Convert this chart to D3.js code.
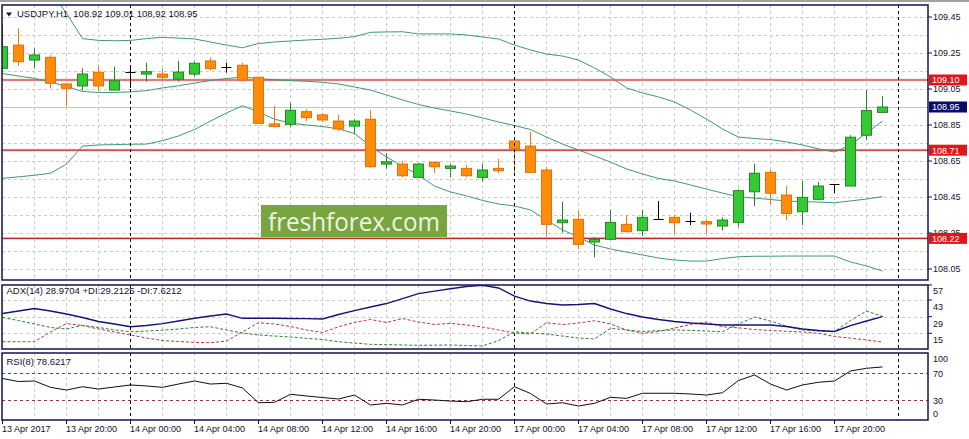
<!DOCTYPE html>
<html><head><meta charset="utf-8">
<script src="https://cdn.jsdelivr.net/npm/d3@7"></script>
<style>
body{margin:0;background:#fff;}
svg{display:block;}
text{font-family:"Liberation Sans",Arial,sans-serif;}
</style>
</head><body><svg id="c" width="969" height="439"></svg>
<script>
// ---------- DATA ----------
const barTimes = [
"13 Apr 16:00","13 Apr 17:00","13 Apr 18:00","13 Apr 19:00","13 Apr 20:00","13 Apr 21:00","13 Apr 22:00","13 Apr 23:00",
"14 Apr 00:00","14 Apr 01:00","14 Apr 02:00","14 Apr 03:00","14 Apr 04:00","14 Apr 05:00","14 Apr 06:00","14 Apr 07:00",
"14 Apr 08:00","14 Apr 09:00","14 Apr 10:00","14 Apr 11:00","14 Apr 12:00","14 Apr 13:00","14 Apr 14:00","14 Apr 15:00",
"14 Apr 16:00","14 Apr 17:00","14 Apr 18:00","14 Apr 19:00","14 Apr 20:00","14 Apr 21:00","14 Apr 22:00","14 Apr 23:00",
"17 Apr 00:00","17 Apr 01:00","17 Apr 02:00","17 Apr 03:00","17 Apr 04:00","17 Apr 05:00","17 Apr 06:00","17 Apr 07:00",
"17 Apr 08:00","17 Apr 09:00","17 Apr 10:00","17 Apr 11:00","17 Apr 12:00","17 Apr 13:00","17 Apr 14:00","17 Apr 15:00",
"17 Apr 16:00","17 Apr 17:00","17 Apr 18:00","17 Apr 19:00","17 Apr 20:00","17 Apr 21:00","17 Apr 22:00","17 Apr 23:00"];

const open  = [109.165,109.294,109.211,109.226,109.078,109.067,109.143,109.044,109.144,109.133,109.133,109.104,109.133,109.206,109.170,109.182,
109.115,108.856,108.854,108.924,108.906,108.872,108.844,108.882,108.633,108.633,108.559,108.643,108.609,108.609,108.559,108.609,
108.761,108.733,108.600,108.307,108.326,108.200,108.215,108.298,108.263,108.326,108.337,108.318,108.313,108.289,108.309,108.479,
108.587,108.461,108.368,108.437,108.521,108.511,108.793,108.920];
const high  = [109.406,109.387,109.276,109.239,109.085,109.165,109.178,109.174,109.167,109.196,109.165,109.206,109.202,109.226,109.196,109.196,
109.118,108.956,108.974,108.937,108.917,108.906,108.882,108.933,108.693,108.650,108.637,108.646,108.633,108.628,108.633,108.661,
108.765,108.813,108.618,108.424,108.372,108.226,108.378,108.350,108.378,108.428,108.350,108.363,108.326,108.337,108.493,108.633,
108.600,108.511,108.539,108.533,108.521,108.793,109.044,109.010];
const low   = [109.156,109.178,109.165,109.054,108.952,109.041,109.041,109.044,109.056,109.091,109.091,109.091,109.118,109.152,109.141,109.091,
108.856,108.837,108.841,108.872,108.867,108.818,108.798,108.613,108.609,108.559,108.556,108.585,108.559,108.559,108.535,108.582,
108.572,108.585,108.229,108.252,108.159,108.115,108.213,108.255,108.233,108.326,108.248,108.294,108.248,108.263,108.285,108.400,
108.409,108.322,108.294,108.437,108.471,108.511,108.767,108.920];
const close = [109.285,109.202,109.239,109.082,109.054,109.133,109.067,109.096,109.144,109.146,109.115,109.144,109.193,109.163,109.170,109.100,
108.859,108.841,108.932,108.891,108.878,108.828,108.872,108.618,108.646,108.568,108.633,108.618,108.622,108.568,108.600,108.596,
108.717,108.587,108.298,108.322,108.187,108.215,108.309,108.257,108.337,108.326,108.307,108.318,108.300,108.322,108.485,108.582,
108.471,108.359,108.448,108.511,108.521,108.782,108.930,108.950];

const bbUpper  = [109.720,109.680,109.647,109.596,109.470,109.330,109.320,109.318,109.320,109.330,109.337,109.333,109.328,109.311,109.294,109.279,
109.303,109.311,109.317,109.322,109.326,109.332,109.341,109.365,109.367,109.368,109.356,109.356,109.356,109.350,109.339,109.328,
109.294,109.267,109.244,109.233,109.211,109.167,109.117,109.056,109.028,109.006,108.978,108.933,108.883,108.828,108.783,108.775,
108.769,108.756,108.739,108.717,108.700,108.739,108.806,108.872];
const bbMiddle = [109.136,109.122,109.109,109.089,109.064,109.036,109.031,109.031,109.034,109.041,109.056,109.068,109.083,109.097,109.108,109.117,
109.108,109.101,109.097,109.093,109.087,109.078,109.061,109.044,109.017,108.989,108.964,108.944,108.928,108.911,108.889,108.867,
108.847,108.825,108.783,108.744,108.711,108.678,108.644,108.606,108.578,108.553,108.539,108.517,108.494,108.472,108.451,108.444,
108.436,108.428,108.424,108.422,108.418,108.428,108.439,108.452];
const bbLower  = [108.554,108.562,108.571,108.582,108.633,108.733,108.739,108.741,108.743,108.744,108.763,108.789,108.825,108.872,108.917,108.957,
108.922,108.882,108.861,108.850,108.842,108.828,108.803,108.733,108.672,108.622,108.572,108.511,108.478,108.456,108.431,108.411,
108.400,108.378,108.322,108.267,108.228,108.183,108.161,108.144,108.128,108.111,108.100,108.094,108.094,108.108,108.118,108.121,
108.121,108.122,108.122,108.122,108.122,108.089,108.067,108.039];

const adx     = [31.6,33.7,35.8,33.7,31.2,28.3,24.9,22.8,20.5,21.5,23.1,25.3,27.6,29.5,31.2,27.6,
27.6,27.6,27.4,27.3,27.0,30.8,34.1,37.1,40.0,44.2,48.4,50.5,52.5,54.3,55.4,53.1,
46.3,42.1,40.0,38.8,39.2,40.0,35.4,31.6,28.7,26.6,24.9,23.6,22.8,22.0,22.0,22.0,
22.0,20.7,18.6,17.3,16.5,21.5,25.3,28.9704];
const plusDI  = [28.3,25.7,22.8,19.9,18.6,21.7,19.9,17.8,16.3,16.9,17.6,18.6,19.9,20.5,17.8,15.2,
13.6,12.7,11.9,10.8,9.8,7.9,6.8,5.7,5.5,5.2,4.9,5.0,5.2,4.7,4.3,8.9,
16.3,15.2,14.4,12.7,11.0,10.2,19.2,17.8,16.5,17.3,17.8,17.5,16.9,16.3,22.8,28.7,
25.3,21.1,17.8,16.9,16.5,25.7,33.7,29.2125];
const minusDI = [7.9,7.9,7.9,16.1,23.2,21.5,18.6,16.1,13.6,11.0,8.9,8.1,7.4,7.1,8.5,16.1,
23.9,22.8,20.7,17.8,15.7,20.5,24.1,26.6,24.1,27.4,24.5,22.4,23.4,22.0,20.3,17.8,
15.2,14.4,23.9,22.4,23.6,25.6,22.8,17.8,15.0,16.5,19.4,22.4,24.5,20.5,19.6,18.2,
17.3,16.7,16.1,15.0,12.3,11.0,9.4,7.6212];
const rsi     = [61.5,57.0,57.8,48.4,44.4,49.3,45.9,48.9,51.9,50.4,48.4,53.3,57.8,53.3,54.4,47.4,
25.6,26.2,38.1,35.6,33.3,31.1,37.0,22.2,24.7,22.2,30.7,29.6,28.1,27.1,30.7,30.7,
49.3,39.3,23.7,25.6,20.7,24.7,33.6,32.1,39.6,39.6,39.6,38.5,37.0,40.4,58.5,66.7,
53.3,44.4,51.9,55.9,57.8,72.6,76.6,78.6217];

const levelLines   = [109.10, 108.71, 108.22];
const currentPrice = 108.95;
const priceTicks   = [109.45,109.25,109.05,108.85,108.65,108.45,108.25,108.05];
const priceGrid    = [109.45,109.35,109.25,109.15,109.05,108.95,108.85,108.75,108.65,108.55,108.45,108.35,108.25,108.15,108.05];
const adxTicks     = [57,43,29,15];
const rsiTicks     = [100,70,30,0];
const rsiLevels    = [70,30];
const timeTickIdx    = [0,4,8,12,16,20,24,28,32,36,40,44,48,52];
const timeTickLabels = ["13 Apr 2017","13 Apr 20:00","14 Apr 00:00","14 Apr 04:00","14 Apr 08:00","14 Apr 12:00","14 Apr 16:00",
"14 Apr 20:00","17 Apr 00:00","17 Apr 04:00","17 Apr 08:00","17 Apr 12:00","17 Apr 16:00","17 Apr 20:00"];
const daySeparatorIdx = [8,32,56];
const titleMain = "USDJPY,H1  108.92 109.01 108.92 108.95";
const titleAdx  = "ADX(14) 28.9704 +DI:29.2125 -DI:7.6212";
const titleRsi  = "RSI(8) 78.6217";
const watermark = "freshforex.com";

// ---------- LAYOUT ----------
const svg = d3.select('#c');
const L = 2, R = 928;
const P = {
  main:{top:5,bottom:280},
  adx:{top:285,bottom:349},
  rsi:{top:353,bottom:420}
};
const x  = d3.scaleLinear().domain([0,56]).range([2.5,898.5]);
const y  = d3.scaleLinear().domain([108.05,109.45]).range([269,17]);
const ya = d3.scaleLinear().domain([1.8,55.6]).range([349,285]);
const yr = d3.scaleLinear().domain([0,100]).range([420,352.5]);

svg.append('rect').attr('x',0).attr('y',0).attr('width',969).attr('height',439).attr('fill','#fff');
svg.append('line').attr('x1',0).attr('x2',969).attr('y1',1).attr('y2',1).attr('stroke','#a0a0a0').attr('stroke-width',2);

const defs = svg.append('defs');
Object.entries(P).forEach(([k,p])=>{
  defs.append('clipPath').attr('id','clip-'+k).append('rect')
    .attr('x',L).attr('y',p.top).attr('width',R-L).attr('height',p.bottom-p.top);
});
const gMain = svg.append('g').attr('clip-path','url(#clip-main)');
const gAdx  = svg.append('g').attr('clip-path','url(#clip-adx)');
const gRsi  = svg.append('g').attr('clip-path','url(#clip-rsi)');

const gridColor = '#c9c9c9';
// vertical grid (every 2 bars)
const vIdx = d3.range(0,57,2).filter(i=>!daySeparatorIdx.includes(i));
[[gMain,P.main],[gAdx,P.adx],[gRsi,P.rsi]].forEach(([g,p])=>{
  g.selectAll(null).data(vIdx).enter().append('line')
    .attr('x1',d=>x(d)).attr('x2',d=>x(d)).attr('y1',p.top).attr('y2',p.bottom)
    .attr('stroke',gridColor).attr('stroke-dasharray','3,3').attr('stroke-width',1);
});
// horizontal grid main
gMain.selectAll(null).data(priceGrid).enter().append('line')
  .attr('x1',L).attr('x2',R).attr('y1',d=>Math.round(y(d))+0.5).attr('y2',d=>Math.round(y(d))+0.5)
  .attr('stroke',gridColor).attr('stroke-dasharray','3,3');
// adx grid
gAdx.selectAll(null).data(adxTicks).enter().append('line')
  .attr('x1',L).attr('x2',R).attr('y1',d=>Math.round(ya(d))+0.5).attr('y2',d=>Math.round(ya(d))+0.5)
  .attr('stroke',gridColor).attr('stroke-dasharray','3,3');

// watermark
gMain.append('rect').attr('x',261).attr('y',205).attr('width',186).attr('height',33).attr('fill','#79a540');
gMain.append('text').attr('x',268).attr('y',231)
  .style('font-family','"Open Sans",sans-serif').attr('font-size',25).attr('fill','#eef4e2')
  .attr('textLength',172).attr('lengthAdjust','spacingAndGlyphs').text(watermark);

// current price line
gMain.append('line').attr('x1',L).attr('x2',R).attr('y1',Math.round(y(currentPrice))+0.5).attr('y2',Math.round(y(currentPrice))+0.5)
  .attr('stroke','#c4c4c4').attr('stroke-width',1);
// level lines
gMain.selectAll(null).data(levelLines).enter().append('line')
  .attr('x1',L).attr('x2',R).attr('y1',d=>y(d)).attr('y2',d=>y(d))
  .attr('stroke','#f6d3d3').attr('stroke-width',3);
gMain.selectAll(null).data(levelLines).enter().append('line')
  .attr('x1',L).attr('x2',R).attr('y1',d=>y(d)).attr('y2',d=>y(d))
  .attr('stroke','#bb2a2f').attr('stroke-width',1.2);

// bollinger bands
const bandColor = '#42996f';
[bbUpper,bbMiddle,bbLower].forEach(arr=>{
  gMain.append('path').datum(arr)
    .attr('d',d3.line().x((d,i)=>x(i)).y(d=>y(d)))
    .attr('fill','none').attr('stroke',bandColor).attr('stroke-width',1);
});

// candles
const bars = open.map((o,i)=>({i,o,h:high[i],l:low[i],c:close[i]}));
const kind = d => d.c>d.o ? 'bull' : (d.c<d.o ? 'bear' : 'doji');
const wickCol = {bull:'#1f8a1f',bear:'#ee7a0a',doji:'#000'};
const bodyFill = {bull:'#35c935',bear:'#ff8c0a'};
const bodyStroke = {bull:'#1f8a1f',bear:'#e86e08'};
const cg = gMain.append('g');
cg.selectAll(null).data(bars).enter().append('line')
  .attr('x1',d=>x(d.i)).attr('x2',d=>x(d.i)).attr('y1',d=>y(d.h)).attr('y2',d=>y(d.l))
  .attr('stroke',d=>wickCol[kind(d)]).attr('stroke-width',1);
cg.selectAll(null).data(bars.filter(d=>kind(d)!=='doji')).enter().append('rect')
  .attr('x',d=>x(d.i)-5).attr('width',10)
  .attr('y',d=>y(Math.max(d.o,d.c))).attr('height',d=>Math.max(1,y(Math.min(d.o,d.c))-y(Math.max(d.o,d.c))))
  .attr('fill',d=>bodyFill[kind(d)]).attr('stroke',d=>bodyStroke[kind(d)]).attr('stroke-width',1);
cg.selectAll(null).data(bars.filter(d=>kind(d)==='doji')).enter().append('line')
  .attr('x1',d=>x(d.i)-5).attr('x2',d=>x(d.i)+5).attr('y1',d=>Math.round(y(d.o))+0.5).attr('y2',d=>Math.round(y(d.o))+0.5)
  .attr('stroke','#000').attr('stroke-width',1);

// ADX panel
const lineA = arr => d3.line().x((d,i)=>x(i)).y(d=>ya(d))(arr);
gAdx.append('path').attr('d',lineA(minusDI)).attr('fill','none').attr('stroke','#b8383a').attr('stroke-width',1).attr('stroke-dasharray','3,2');
gAdx.append('path').attr('d',lineA(plusDI)).attr('fill','none').attr('stroke','#2f7d34').attr('stroke-width',1).attr('stroke-dasharray','3,2');
gAdx.append('path').attr('d',lineA(adx)).attr('fill','none').attr('stroke','#14147a').attr('stroke-width',1.4);

// RSI panel
gRsi.selectAll(null).data(rsiLevels).enter().append('line')
  .attr('x1',L).attr('x2',R).attr('y1',d=>Math.round(yr(d))+0.5).attr('y2',d=>Math.round(yr(d))+0.5)
  .attr('stroke','#a8303a').attr('stroke-dasharray','3,3').attr('stroke-width',1);
gRsi.append('path').attr('d',d3.line().x((d,i)=>x(i)).y(d=>yr(d))(rsi))
  .attr('fill','none').attr('stroke','#0c0c24').attr('stroke-width',1);

// day separators
[[gMain,P.main],[gAdx,P.adx],[gRsi,P.rsi]].forEach(([g,p])=>{
  g.selectAll(null).data(daySeparatorIdx).enter().append('line')
    .attr('x1',d=>x(d)).attr('x2',d=>x(d)).attr('y1',p.top).attr('y2',p.bottom)
    .attr('stroke','#000').attr('stroke-dasharray','3,3').attr('stroke-width',1);
});

// panel borders
const borderCol = '#14144a';
Object.values(P).forEach(p=>{
  svg.append('rect').attr('x',L).attr('y',p.top).attr('width',R-L).attr('height',p.bottom-p.top)
    .attr('fill','none').attr('stroke',borderCol).attr('stroke-width',1.5);
});

// right axis - main
const txtCol = '#12122e';
const axisG = svg.append('g').attr('font-size',9).attr('fill',txtCol);
axisG.selectAll(null).data(priceTicks).enter().append('line')
  .attr('x1',R).attr('x2',R+4).attr('y1',d=>y(d)).attr('y2',d=>y(d)).attr('stroke',borderCol);
axisG.selectAll(null).data(priceTicks).enter().append('text')
  .attr('x',933).attr('y',d=>y(d)+3.2).text(d=>d.toFixed(2));
// adx axis
axisG.selectAll(null).data(adxTicks).enter().append('line')
  .attr('x1',R).attr('x2',R+4).attr('y1',d=>Math.max(P.adx.top,ya(d))).attr('y2',d=>Math.max(P.adx.top,ya(d))).attr('stroke',borderCol);
axisG.selectAll(null).data(adxTicks).enter().append('text')
  .attr('x',933).attr('y',d=>ya(d)+7+3.2).text(d=>d);
// rsi axis
axisG.selectAll(null).data(rsiTicks).enter().append('text')
  .attr('x',933).attr('y',d=>Math.min(414,Math.max(359,yr(d)+1))+3.2).text(d=>d);

// price level boxes (drawn over the axis labels, as in the terminal)
const boxes = levelLines.map(v=>({v,fill:'#e3141c'})).concat([{v:currentPrice,fill:'#0a0a6a'}]);
const bg = svg.append('g');
bg.selectAll(null).data(boxes).enter().append('rect')
  .attr('x',929).attr('y',d=>y(d.v)-5.5).attr('width',38).attr('height',11).attr('fill',d=>d.fill);
bg.selectAll(null).data(boxes).enter().append('text')
  .attr('x',932).attr('y',d=>y(d.v)+3.3).attr('font-size',9).attr('fill','#fff').text(d=>d.v.toFixed(2));

// time axis
const tg = svg.append('g');
tg.selectAll(null).data(timeTickIdx).enter().append('line')
  .attr('x1',d=>x(d)).attr('x2',d=>x(d)).attr('y1',P.rsi.bottom).attr('y2',P.rsi.bottom+4).attr('stroke',borderCol);
tg.selectAll(null).data(timeTickIdx).enter().append('text')
  .attr('x',d=>x(d)-0.5).attr('y',432).attr('font-size',9).attr('fill',txtCol)
  .text((d,i)=>timeTickLabels[i]);

// titles
svg.append('path').attr('d','M6,12.5 L12,12.5 L9,16.5 Z').attr('fill','#12124a');
svg.append('text').attr('x',17).attr('y',17.3).attr('font-size',9.5).attr('fill',txtCol).style('white-space','pre').text(titleMain);
svg.append('text').attr('x',6.5).attr('y',294).attr('font-size',9.5).attr('fill',txtCol).text(titleAdx);
svg.append('text').attr('x',6.5).attr('y',365).attr('font-size',9.5).attr('fill',txtCol).text(titleRsi);
</script>
</body></html>
